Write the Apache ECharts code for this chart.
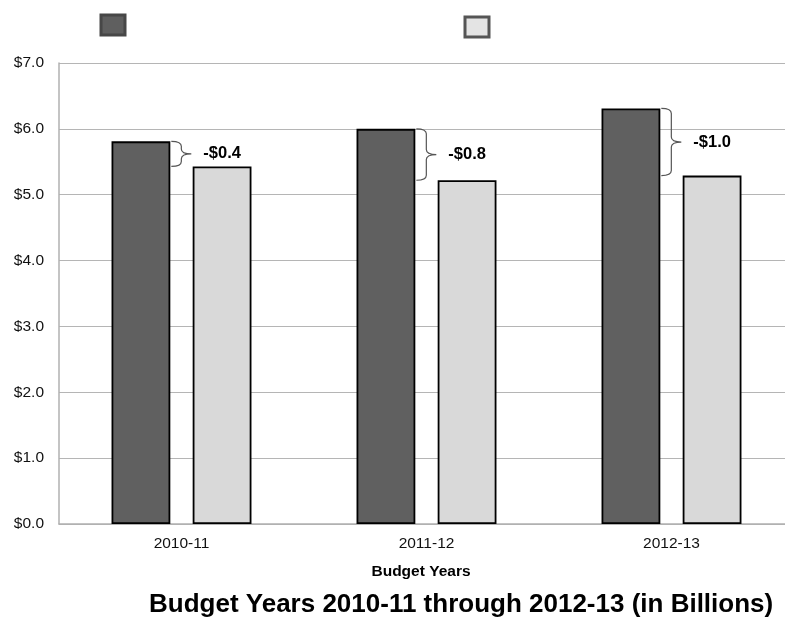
<!DOCTYPE html>
<html><head><meta charset="utf-8">
<script src="https://cdn.jsdelivr.net/npm/echarts@6/dist/echarts.min.js"></script>
<style>html,body{margin:0;padding:0;background:#fff;overflow:hidden}#c{width:800px;height:620px}</style>
</head><body><div id="c"></div>
<script>
var categories = ['2010-11', '2011-12', '2012-13'];
var seriesAValues = [5.81, 6.00, 6.31];
var seriesBValues = [5.43, 5.22, 5.29];
var diffLabels = ['-$0.4', '-$0.8', '-$1.0'];
var yTicks = [0, 1, 2, 3, 4, 5, 6, 7];

var braceData = categories.map(function (c, i) { return [i, seriesAValues[i], seriesBValues[i], diffLabels[i]]; });
var BAR_W = 0.24, BAR_GAP = 0.38;
var FONT = '"Liberation Sans", Arial, Helvetica';

var chart = echarts.init(document.getElementById('c'), null, {renderer: 'canvas'});
chart.setOption({
  animation: false,
  title: {
    text: 'Budget Years 2010-11 through 2012-13 (in Billions)',
    left: 149, top: 592, padding: 0,
    textStyle: {fontFamily: FONT, fontWeight: 'bold', fontSize: 26, color: '#000'}
  },
  legend: [
    {data: ['Series A'], left: 99.5, top: 13.5, padding: 0, itemWidth: 24, itemHeight: 20, icon: 'rect',
     formatter: function () { return ''; }, selectedMode: false,
     itemStyle: {color: '#5f5f5f', borderColor: '#474747', borderWidth: 3}},
    {data: ['Series B'], left: 463.5, top: 15.5, padding: 0, itemWidth: 24, itemHeight: 20, icon: 'rect',
     formatter: function () { return ''; }, selectedMode: false,
     itemStyle: {color: '#e4e4e4', borderColor: '#555555', borderWidth: 3}}
  ],
  grid: {left: 59, top: 63, right: 6, bottom: 96, containLabel: false},
  xAxis: {
    type: 'category', data: categories,
    name: 'Budget Years', nameLocation: 'middle', nameGap: 40,
    nameTextStyle: {fontFamily: FONT, fontWeight: 'bold', fontSize: 15.5, color: '#000', padding: [0, 11, 0, 0]},
    axisLine: {lineStyle: {color: '#b0b0b0', width: 1.5}},
    axisTick: {show: false},
    axisLabel: {fontFamily: FONT, fontSize: 15.5, color: '#111', margin: 12}
  },
  yAxis: {
    type: 'value', min: yTicks[0], max: yTicks[yTicks.length - 1], interval: 1,
    axisLine: {show: true, lineStyle: {color: '#b0b0b0', width: 1.5}},
    axisTick: {show: false},
    splitLine: {lineStyle: {color: '#b5b5b5', width: 1.2}},
    axisLabel: {fontFamily: FONT, fontSize: 15.5, color: '#111', margin: 15,
      formatter: function (v) { return '$' + v.toFixed(1); }}
  },
  series: [
    {name: 'Series A', type: 'bar', data: seriesAValues, barWidth: (BAR_W * 100) + '%', barGap: (BAR_GAP * 100) + '%',
     itemStyle: {color: '#606060', borderColor: '#000', borderWidth: 1.8}},
    {name: 'Series B', type: 'bar', data: seriesBValues, barWidth: (BAR_W * 100) + '%',
     itemStyle: {color: '#d9d9d9', borderColor: '#000', borderWidth: 1.8}},
    {name: 'braces', type: 'custom', data: braceData, encode: {x: 0, y: [1, 2]}, z: 5,
     renderItem: function (params, api) {
       var idx = api.value(0);
       var pTop = api.coord([idx, api.value(1)]);
       var pBot = api.coord([idx, api.value(2)]);
       var band = api.size([1, 0])[0];
       var bw = band * BAR_W, gap = bw * BAR_GAP;
       var x0 = pTop[0] - gap / 2 + 1;
       var y1 = pTop[1], y2 = pBot[1];
       var xm = x0 + 10, tick = xm + 10, ym = (y1 + y2) / 2, r = 5;
       var d = 'M' + x0 + ' ' + y1 + ' Q' + xm + ' ' + y1 + ' ' + xm + ' ' + (y1 + r) +
               ' L' + xm + ' ' + (ym - r) + ' Q' + xm + ' ' + ym + ' ' + tick + ' ' + ym +
               ' M' + tick + ' ' + ym + ' Q' + xm + ' ' + ym + ' ' + xm + ' ' + (ym + r) +
               ' L' + xm + ' ' + (y2 - r) + ' Q' + xm + ' ' + y2 + ' ' + x0 + ' ' + y2;
       return {type: 'group', children: [
         {type: 'path', shape: {pathData: d}, style: {fill: null, stroke: '#555', lineWidth: 1.2}},
         {type: 'text', style: {text: diffLabels[idx], x: tick + 12, y: ym, verticalAlign: 'middle', align: 'left',
           font: 'bold 16.5px ' + FONT, fill: '#000'}}
       ]};
     }}
  ]
});
</script></body></html>
